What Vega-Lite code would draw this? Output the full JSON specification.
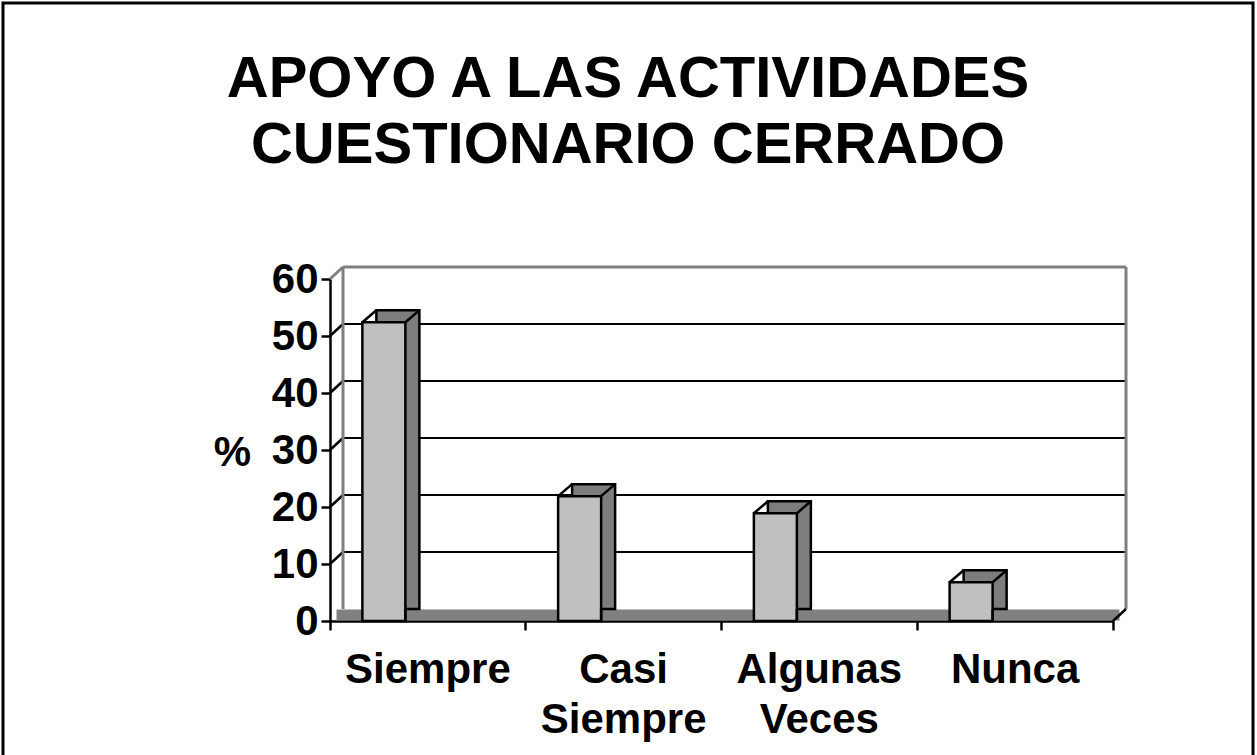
{
  "$schema": "https://vega.github.io/schema/vega-lite/v6.json",
  "width": 1250,
  "height": 780,
  "autosize": {"type": "none"},
  "padding": {"left": 3, "top": 3, "right": 3, "bottom": 0},
  "background": "white",
  "config": {"view": {"stroke": "black", "strokeWidth": 3}, "font": "Liberation Sans"},
  "title": {
    "text": ["APOYO A LAS ACTIVIDADES", "CUESTIONARIO CERRADO"],
    "fontSize": 58,
    "fontWeight": "bold",
    "font": "Liberation Sans",
    "color": "black",
    "lineHeight": 66,
    "anchor": "middle",
    "frame": "group",
    "offset": -172
  },
  "datasets": {
    "bars": [
      {"cat": "Siempre", "pct": 52.4},
      {"cat": "Casi Siempre", "pct": 21.9},
      {"cat": "Algunas Veces", "pct": 18.9},
      {"cat": "Nunca", "pct": 6.8}
    ],
    "grid": [{"v": 10}, {"v": 20}, {"v": 30}, {"v": 40}, {"v": 50}],
    "one": [{"k": "wall"}]
  },
  "resolve": {"scale": {"x": "independent"}},
  "layer": [
    {
      "layer": [
        {
          "data": {"name": "one"},
          "mark": {"type": "rule", "color": "#808080", "strokeWidth": 11, "xOffset": 6.5, "x2Offset": 6.5, "yOffset": -6, "y2Offset": -6},
          "encoding": {
            "x": {"datum": 0, "type": "quantitative", "scale": {"domain": [0, 4], "range": [327, 1110], "nice": false, "zero": false}, "axis": null},
            "x2": {"datum": 4},
            "y": {"datum": 0, "type": "quantitative", "scale": {"domain": [0, 60], "range": [618, 276], "nice": false}}
          }
        },
        {
          "data": {"name": "grid"},
          "mark": {"type": "rule", "color": "black", "strokeWidth": 2, "xOffset": 13, "x2Offset": 13, "yOffset": -12, "y2Offset": -12},
          "encoding": {
            "x": {"datum": 0, "type": "quantitative"},
            "x2": {"datum": 4},
            "y": {"field": "v", "type": "quantitative"}
          }
        },
        {
          "data": {"name": "grid"},
          "mark": {"type": "rule", "color": "black", "strokeWidth": 2.5, "x2Offset": 13, "y2Offset": -12},
          "encoding": {
            "x": {"datum": 0, "type": "quantitative"},
            "x2": {"datum": 0},
            "y": {"field": "v", "type": "quantitative"},
            "y2": {"field": "v"}
          }
        },
        {
          "data": {"name": "one"},
          "mark": {"type": "rule", "color": "#808080", "strokeWidth": 3, "xOffset": 13, "x2Offset": 13, "yOffset": -12, "y2Offset": -12},
          "encoding": {
            "x": {"datum": 0, "type": "quantitative"},
            "x2": {"datum": 4},
            "y": {"datum": 60, "type": "quantitative"}
          }
        },
        {
          "data": {"name": "one"},
          "mark": {"type": "rule", "color": "#808080", "strokeWidth": 3, "xOffset": 13, "yOffset": -12, "y2Offset": -12},
          "encoding": {
            "x": {"datum": 0, "type": "quantitative"},
            "y": {"datum": 0, "type": "quantitative"},
            "y2": {"datum": 60}
          }
        },
        {
          "data": {"name": "one"},
          "mark": {"type": "rule", "color": "#808080", "strokeWidth": 3, "xOffset": 13, "yOffset": -12, "y2Offset": -12},
          "encoding": {
            "x": {"datum": 4, "type": "quantitative"},
            "y": {"datum": 0, "type": "quantitative"},
            "y2": {"datum": 60}
          }
        },
        {
          "data": {"name": "one"},
          "mark": {"type": "rule", "color": "#808080", "strokeWidth": 3, "x2Offset": 13, "y2Offset": -12},
          "encoding": {
            "x": {"datum": 0, "type": "quantitative"},
            "x2": {"datum": 0},
            "y": {"datum": 60, "type": "quantitative"},
            "y2": {"datum": 60}
          }
        },
        {
          "data": {"name": "one"},
          "mark": {"type": "rule", "color": "black", "strokeWidth": 2.5, "x2Offset": 13, "y2Offset": -12},
          "encoding": {
            "x": {"datum": 4, "type": "quantitative"},
            "x2": {"datum": 4},
            "y": {"datum": 0, "type": "quantitative"},
            "y2": {"datum": 0}
          }
        }
      ]
    },
    {
      "data": {"name": "bars"},
      "encoding": {
        "x": {
          "field": "cat",
          "type": "nominal",
          "sort": null,
          "scale": {"type": "band", "range": [327, 1110], "paddingInner": 0, "paddingOuter": 0},
          "axis": {
            "orient": "bottom",
            "offset": -162,
            "bandPosition": 1,
            "tickExtra": true,
            "tickSize": 9,
            "tickWidth": 2.5,
            "tickColor": "black",
            "domainColor": "black",
            "domainWidth": 2.5,
            "labelFontSize": 42,
            "labelFontWeight": "bold",
            "labelFont": "Liberation Sans",
            "labelColor": "black",
            "labelAngle": 0,
            "labelExpr": "split(datum.label, ' ')",
            "labelLineHeight": 50,
            "labelPadding": 19,
            "labelOverlap": false,
            "labelBound": false,
            "labelFlush": false,
            "title": null,
            "grid": false
          }
        },
        "y": {
          "field": "pct",
          "type": "quantitative",
          "scale": {"domain": [0, 60], "range": [618, 276], "nice": false},
          "axis": {
            "orient": "left",
            "offset": -327,
            "values": [0, 10, 20, 30, 40, 50, 60],
            "tickSize": 9,
            "tickWidth": 2.5,
            "tickColor": "black",
            "domainColor": "black",
            "domainWidth": 2.5,
            "labelFontSize": 42,
            "labelFontWeight": "bold",
            "labelFont": "Liberation Sans",
            "labelColor": "black",
            "labelPadding": 3,
            "grid": false,
            "title": "%",
            "titleAngle": 0,
            "titleX": -98,
            "titleY": 449,
            "titleAlign": "center",
            "titleBaseline": "middle",
            "titleFontSize": 42,
            "titleFontWeight": "bold",
            "titleFont": "Liberation Sans",
            "titleColor": "black"
          }
        }
      },
      "layer": [
        {
          "mark": {"type": "bar", "width": 43, "xOffset": -30, "yOffset": -12, "y2Offset": -12, "fill": "#7d7d7d", "stroke": "black", "strokeWidth": 2.5},
          "encoding": {"y2": {"datum": 0}}
        },
        {
          "mark": {"type": "bar", "width": 43, "xOffset": -44, "fill": "#c0c0c0", "stroke": "black", "strokeWidth": 2.5},
          "encoding": {"y2": {"datum": 0}}
        },
        {
          "mark": {"type": "rule", "color": "black", "strokeWidth": 2.5, "xOffset": -65.5, "x2Offset": -51.5, "y2Offset": -12},
          "encoding": {"x2": {"field": "cat"}, "y2": {"field": "pct"}}
        },
        {
          "mark": {"type": "rule", "color": "black", "strokeWidth": 2.5, "xOffset": -22.5, "x2Offset": -8.5, "y2Offset": -12},
          "encoding": {"x2": {"field": "cat"}, "y2": {"field": "pct"}}
        },
        {
          "mark": {"type": "rule", "color": "black", "strokeWidth": 2.5, "xOffset": -22.5, "x2Offset": -8.5, "y2Offset": -12},
          "encoding": {"y": {"datum": 0, "type": "quantitative"}, "y2": {"datum": 0}}
        }
      ]
    }
  ]
}
